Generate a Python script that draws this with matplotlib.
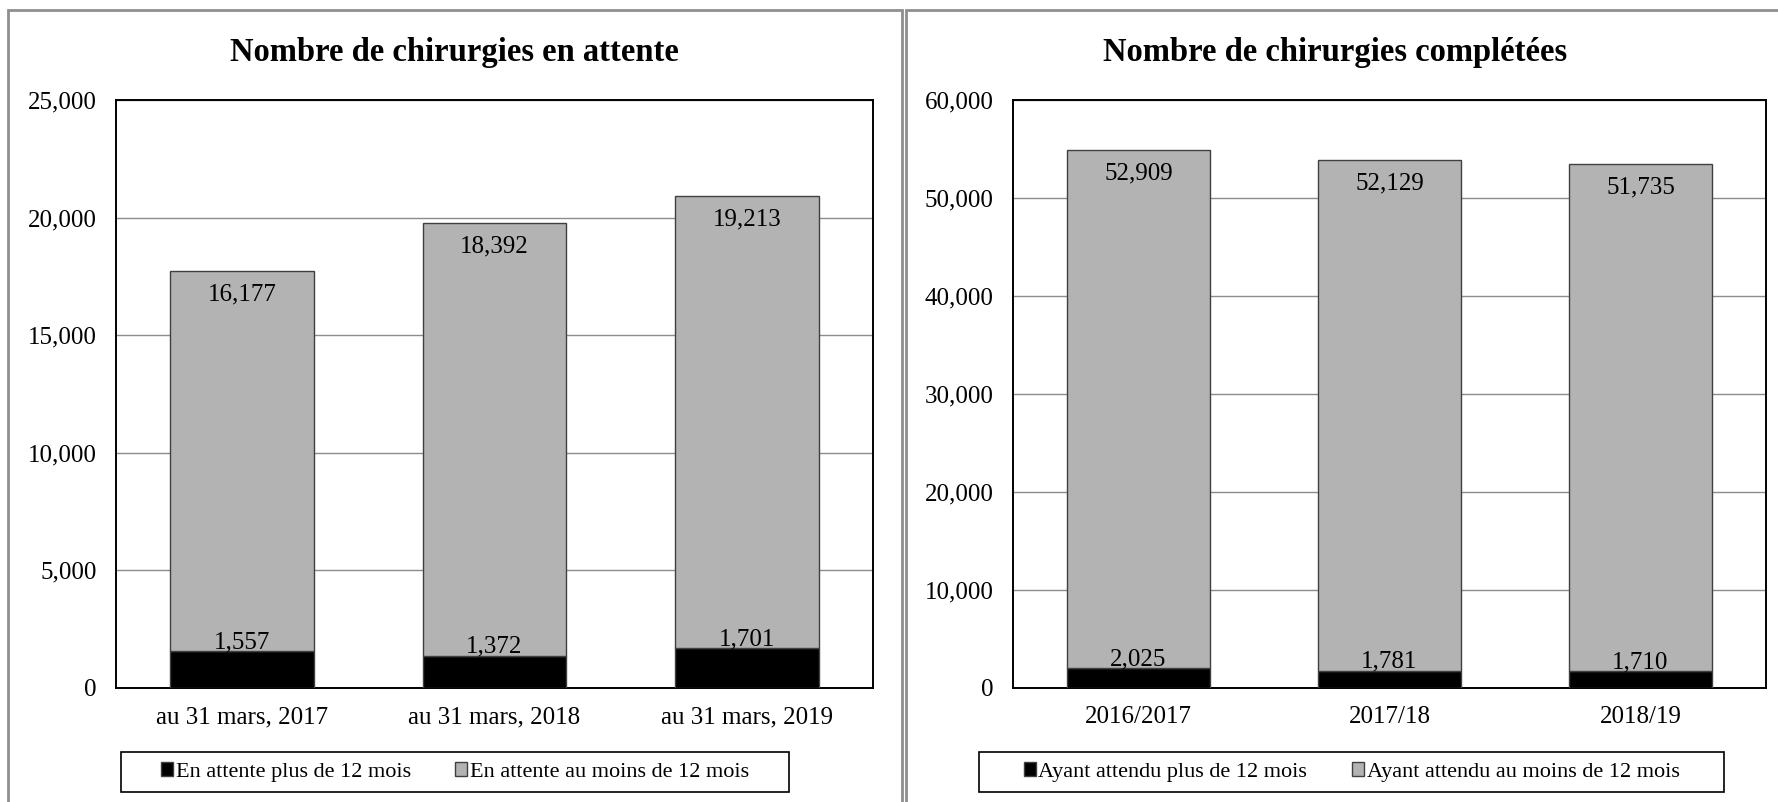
import matplotlib
matplotlib.use("Agg")
import matplotlib.pyplot as plt
from matplotlib.patches import Rectangle, Patch

plt.rcParams['font.family'] = ['Liberation Serif', 'DejaVu Serif']

# Données
attente_cats = ["au 31 mars, 2017", "au 31 mars, 2018", "au 31 mars, 2019"]
attente_plus12 = [1557, 1372, 1701]
attente_moins12 = [16177, 18392, 19213]

completees_cats = ["2016/2017", "2017/18", "2018/19"]
completees_plus12 = [2025, 1781, 1710]
completees_moins12 = [52909, 52129, 51735]

GRIS = "#b3b3b3"
W, H = 1778, 802


def fx(px):
    return px / W


def fy(py):
    return 1 - py / H


def stacked(ax, cats, bas, haut, ymax, step, titre, lab_bas, lab_haut, legend_box, title_x):
    x = range(len(cats))
    ax.bar(x, bas, width=0.57, color="black", edgecolor="#404040", linewidth=1, zorder=3)
    ax.bar(x, haut, width=0.57, bottom=bas, color=GRIS, edgecolor="#404040", linewidth=1, zorder=3)

    for i, (b, h) in enumerate(zip(bas, haut)):
        ax.annotate(f"{b:,}", (i, b), xytext=(0, 2), textcoords="offset points",
                    ha="center", va="baseline", fontsize=18, zorder=4)
        ax.annotate(f"{h:,}", (i, b + h), xytext=(0, -9), textcoords="offset points",
                    ha="center", va="top", fontsize=18, zorder=4)

    ax.set_xlim(-0.5, len(cats) - 0.5)
    ax.set_ylim(0, ymax)
    ax.set_yticks(range(0, ymax + 1, step))
    ax.set_yticklabels([f"{v:,}" for v in range(0, ymax + 1, step)])
    ax.set_xticks(list(x))
    ax.set_xticklabels(cats)
    ax.tick_params(axis="both", length=0, labelsize=18)
    ax.tick_params(axis="y", pad=14)
    ax.tick_params(axis="x", pad=13)
    ax.yaxis.grid(True, color="#8c8c8c", linewidth=1, zorder=0)
    ax.set_axisbelow(True)
    for s in ax.spines.values():
        s.set_linewidth(1.4)
        s.set_color("black")

    fig.text(fx(title_x), fy(52), titre, ha="center", va="center",
             fontsize=23.5, fontweight="bold")

    x0, y0, x1, y1 = legend_box
    fig.patches.append(Rectangle((fx(x0), fy(y1)), fx(x1 - x0), (y1 - y0) / H,
                                 transform=fig.transFigure, fill=False,
                                 edgecolor="black", linewidth=1.2))
    handles = [Patch(facecolor="black", edgecolor="#404040", label=lab_bas),
               Patch(facecolor=GRIS, edgecolor="#404040", label=lab_haut)]
    fig.legend(handles=handles, loc="center", ncol=2, frameon=False,
               bbox_to_anchor=(fx((x0 + x1) / 2), fy((y0 + y1) / 2)),
               fontsize=16, handlelength=0.55, handleheight=0.55,
               handletextpad=0.12, columnspacing=2.0)


fig = plt.figure(figsize=(W / 100, H / 100), dpi=100)

# cadres des deux panneaux
fig.patches.append(Rectangle((fx(8), -0.1), fx(894), 1.1 - 10 / H,
                             transform=fig.transFigure, fill=False,
                             edgecolor="#8f8f8f", linewidth=2))
fig.patches.append(Rectangle((fx(906), -0.1), fx(900), 1.1 - 10 / H,
                             transform=fig.transFigure, fill=False,
                             edgecolor="#8f8f8f", linewidth=2))

ax1 = fig.add_axes([fx(116), fy(688), fx(757), (688 - 100) / H])
ax2 = fig.add_axes([fx(1013), fy(688), fx(753), (688 - 100) / H])

stacked(ax1, attente_cats, attente_plus12, attente_moins12, 25000, 5000,
        "Nombre de chirurgies en attente",
        "En attente plus de 12 mois", "En attente au moins de 12 mois",
        (121, 752, 789, 792), 454)
stacked(ax2, completees_cats, completees_plus12, completees_moins12, 60000, 10000,
        "Nombre de chirurgies complétées",
        "Ayant attendu plus de 12 mois", "Ayant attendu au moins de 12 mois",
        (979, 752, 1724, 792), 1335)

fig.savefig("out.png", dpi=100)
